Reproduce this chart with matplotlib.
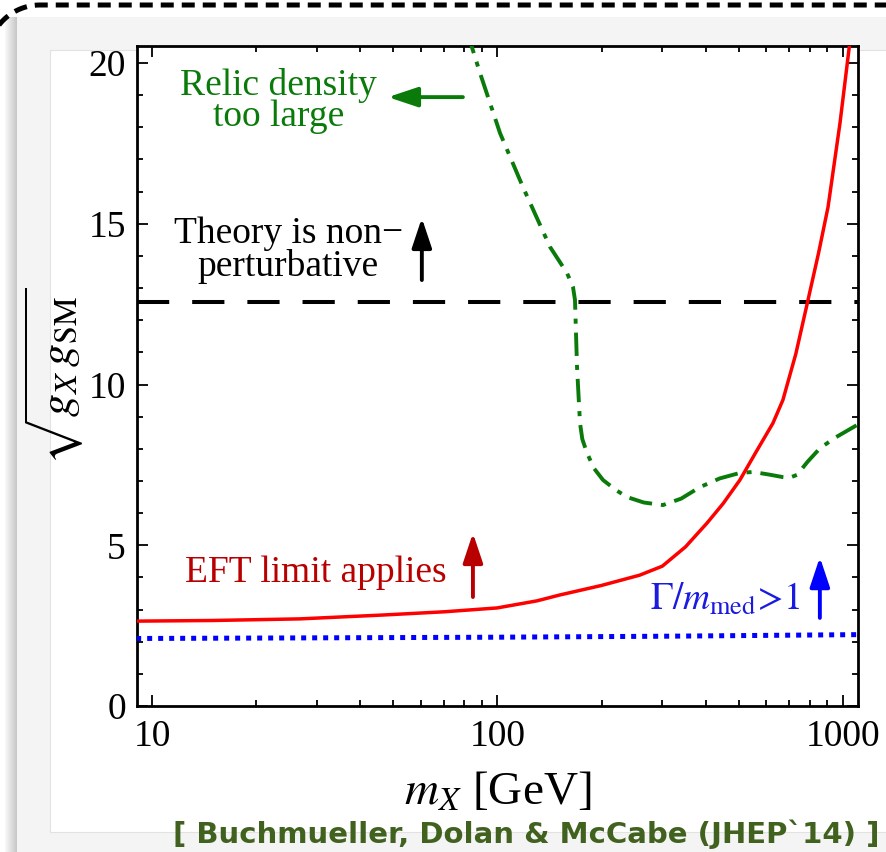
import numpy as np
import matplotlib
matplotlib.use("Agg")
import matplotlib.pyplot as plt
from matplotlib.patches import Rectangle, PathPatch
from matplotlib.path import Path
from matplotlib.transforms import IdentityTransform

plt.rcParams["mathtext.fontset"] = "stix"
plt.rcParams["font.family"] = ["Liberation Serif", "DejaVu Serif"]

# ---- data ----
red_x = [9.0, 15, 26.8, 46.6, 70, 99.7, 130, 151, 200, 258, 300, 350, 404, 450, 503,
         560, 627, 670, 730, 792, 850, 905, 980, 1048, 1080]
red_y = [2.64, 2.66, 2.71, 2.83, 2.93, 3.05, 3.27, 3.45, 3.75, 4.07, 4.35, 4.95, 5.69,
         6.30, 7.03, 7.90, 8.80, 9.52, 10.95, 12.63, 14.1, 15.52, 18.13, 20.7, 22.0]

green_x = [81.5, 89.0, 101.7, 118.5, 141.9, 158.9, 165.4, 167.6, 169.9, 173.3, 176,
           181.6, 190, 202, 220, 237, 265, 301, 340, 385.6, 440, 503, 549, 610, 670,
           700, 736, 790, 858, 950, 1098]
green_y = [21.0, 19.69, 17.82, 16.14, 14.28, 13.47, 13.03, 12.63, 10.54, 8.80, 8.30,
           7.87, 7.40, 7.03, 6.72, 6.50, 6.33, 6.25, 6.45, 6.81, 7.08, 7.25, 7.28, 7.20,
           7.12, 7.10, 7.19, 7.60, 8.02, 8.35, 8.74]

blue_x = [9.0, 100, 300, 1100]
blue_y = [2.10, 2.14, 2.17, 2.22]

pert_limit = 4 * np.pi

C_GREEN = "#0a7a0a"
C_RED = "#ff0000"
C_DRED = "#b80000"
C_BLUE = "#0000ff"
C_TBLUE = "#1a1ae0"

fig = plt.figure(figsize=(8.86, 8.52), dpi=100, facecolor="white")

# slide-style frame behind the plot (pixel coords)
W, H = 886, 852
px = IdentityTransform()
for i, g in enumerate(np.linspace(0.97, 0.78, 12)):
    fig.patches.append(Rectangle((5 + i, -10), 1.2, H - 17 + 10, transform=px,
                                 facecolor=str(g), edgecolor="none", zorder=-5))
fig.patches.append(Rectangle((17, -10), W, H - 17 + 10, transform=px,
                             facecolor="#f4f4f4", edgecolor="none", zorder=-5))
fig.patches.append(Rectangle((50, H - 832), W, 832 - 50, transform=px,
                             facecolor="white", edgecolor="#e2e2e2", lw=0.8, zorder=-4))
# dashed rounded border, only the top-left corner is on screen
r = 52
th = np.linspace(np.pi, np.pi / 2, 40)
cx, cy = -12 + r, H - 5 - r
verts = [(-12, -50)] + [(cx + r * np.cos(t), cy + r * np.sin(t)) for t in th] + [(W + 50, H - 5)]
fig.patches.append(PathPatch(Path(verts), transform=px, facecolor="none",
                             edgecolor="black", lw=3.6, linestyle=(0, (2.6, 1.6)),
                             zorder=-3))

ax = fig.add_axes([137 / W, 1 - 706 / H, (858 - 137) / W, (706 - 46) / H])
ax.set_zorder(2)
ax.set_xscale("log")
ax.set_xlim(9.05, 1105)
ax.set_ylim(0, 20.53)

ax.plot(blue_x, blue_y, color=C_BLUE, lw=3.6, linestyle=(0, (1.0, 1.2)), zorder=3)
ax.axhline(pert_limit, color="black", lw=2.9, linestyle=(0, (8, 5.7)), zorder=3)
ax.plot(green_x, green_y, color=C_GREEN, lw=2.8, linestyle=(0, (6, 2.3, 1.3, 2.3)), zorder=4)
ax.plot(red_x, red_y, color=C_RED, lw=2.5, zorder=5)

# annotations
arrow_kw = dict(lw=2.8, shrinkA=0, shrinkB=0, mutation_scale=20)
head = "-|>,head_length=0.9,head_width=0.3"

ax.text(23.2, 18.82, "Relic density\ntoo large", color=C_GREEN, fontsize=27,
        ha="center", va="center", linespacing=0.9)
ax.annotate("", xy=(48.2, 18.94), xytext=(79.4, 18.94),
            arrowprops=dict(arrowstyle=head, color=C_GREEN, **arrow_kw))

ax.text(24.8, 14.18, "Theory is non\u2212\nperturbative", color="black", fontsize=27,
        ha="center", va="center", linespacing=0.9)
ax.annotate("", xy=(60.4, 15.18), xytext=(60.4, 13.25),
            arrowprops=dict(arrowstyle=head, color="black", **arrow_kw))

ax.text(29.8, 4.14, "EFT limit applies", color=C_DRED, fontsize=27,
        ha="center", va="center")
ax.annotate("", xy=(84.9, 5.38), xytext=(84.9, 3.39),
            arrowprops=dict(arrowstyle=head, color=C_DRED, **arrow_kw))

ax.text(458, 3.30, r"$\Gamma/m_{\rm med}\!>\!1$", color=C_TBLUE, fontsize=27,
        ha="center", va="center")
ax.annotate("", xy=(857, 4.63), xytext=(857, 2.74),
            arrowprops=dict(arrowstyle=head, color=C_BLUE, **arrow_kw))

# axes styling
for s in ax.spines.values():
    s.set_linewidth(2.0)
ax.set_yticks([0, 5, 10, 15, 20])
ax.set_yticks(np.arange(0, 21, 1), minor=True)
ax.set_xticks([10, 100, 1000])
ax.set_xticklabels(["10", "100", "1000"])
ax.tick_params(which="both", direction="in", top=True, right=True, width=1.3,
               labelsize=27, colors="black")
ax.tick_params(which="major", length=8, pad=10)
ax.tick_params(which="minor", length=4.5)
ax.tick_params(axis="y", which="major", pad=8)
ax.tick_params(axis="x", which="minor", labelbottom=False)

ax.set_xlabel(r"$m_X$ [GeV]", fontsize=34, labelpad=12)
ax.set_ylabel(r"$\sqrt{g_X\, g_{\rm SM}}$", fontsize=33, labelpad=2)

fig.text(526 / W, 1 - 834 / H, "[ Buchmueller, Dolan & McCabe (JHEP`14) ]",
         family=["DejaVu Sans"], fontweight="bold", fontsize=21,
         color="#41621f", ha="center", va="center", zorder=5)

fig.savefig("out.png", dpi=100, facecolor="white")
